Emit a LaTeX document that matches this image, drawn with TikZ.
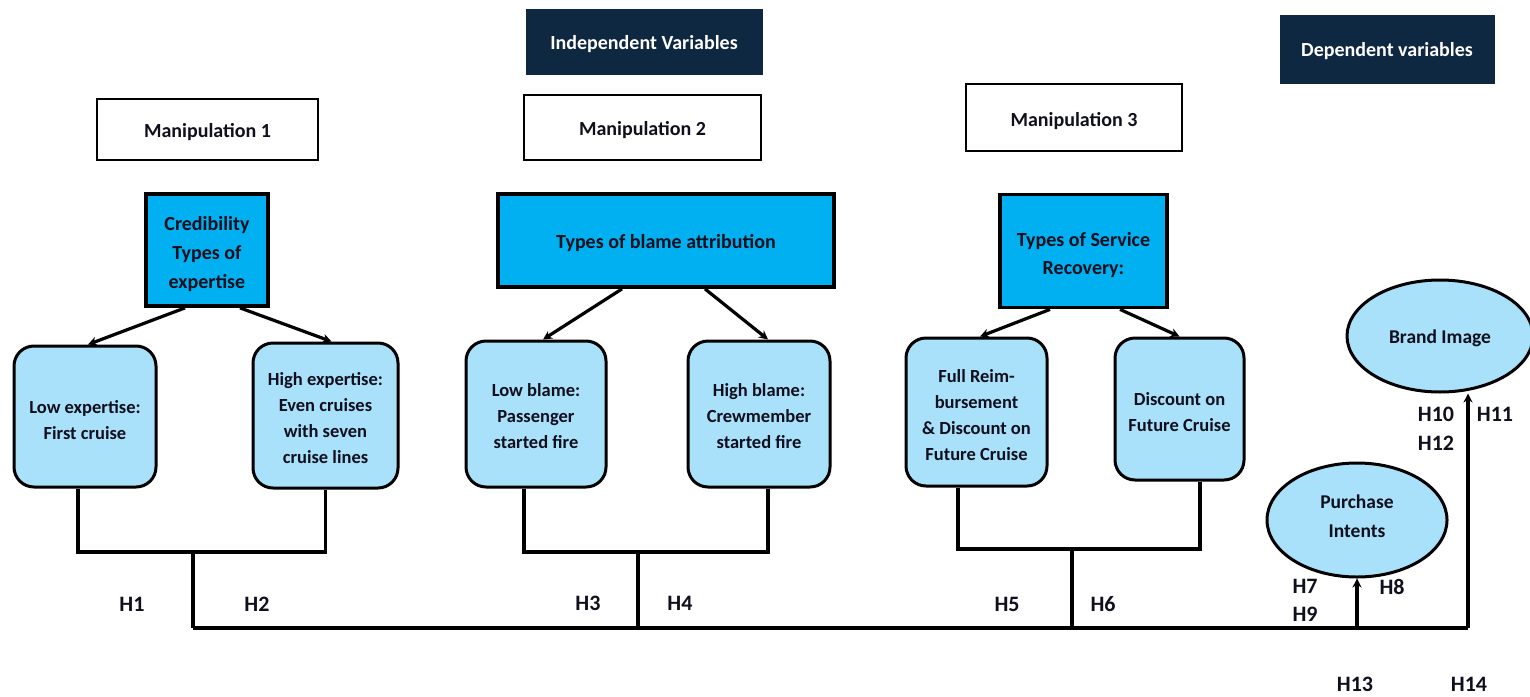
\documentclass[tikz,border=0pt]{standalone}
\usepackage{fontspec}
\setmainfont{Carlito}
\usetikzlibrary{arrows.meta,shapes.geometric}
\definecolor{navy}{RGB}{14,40,65}
\definecolor{bright}{RGB}{0,176,240}
\definecolor{pale}{RGB}{170,225,250}
\definecolor{ink}{RGB}{15,15,30}
\newcommand{\topstrut}[1]{\rule{0pt}{#1}}
\begin{document}
\begin{tikzpicture}[x=1pt,y=-1pt,
  every node/.style={font=\fontsize{18.5}{26}\selectfont\bfseries, align=center, inner sep=2pt, text=ink},
  bigtext/.style={font=\fontsize{20}{28}\selectfont\bfseries},
  darkbox/.style={draw=navy, fill=navy, text=white, line width=1pt, bigtext},
  manbox/.style={draw=black, fill=white, line width=2.4pt, bigtext},
  typebox/.style={draw=black, fill=bright, line width=3.8pt},
  optbox/.style={draw=black, fill=pale, line width=3pt, rounded corners=20pt},
  depell/.style={draw=black, fill=pale, line width=3pt, ellipse, inner sep=0pt, font=\fontsize{19.5}{29}\selectfont\bfseries},
  hlab/.style={font=\fontsize{22}{28}\selectfont\bfseries},
  conn/.style={draw=black, line width=3.2pt},
  arr/.style={draw=black, line width=3.2pt, -{Stealth[length=9pt,width=9pt]}}]
\useasboundingbox (0,0) rectangle (1530,696);

% header boxes
\node[darkbox, minimum width=236pt, minimum height=65pt] (indep) at (644,41.5) {\topstrut{20pt}Independent Variables};
\node[darkbox, minimum width=214pt, minimum height=68pt] (dep) at (1387,49) {\topstrut{18pt}Dependent variables};

\node[manbox, minimum width=221pt, minimum height=61pt] (man1) at (207.5,129.5) {\topstrut{20pt}Manipulation 1};
\node[manbox, minimum width=237pt, minimum height=65pt] (man2) at (642.5,127.5) {\topstrut{20pt}Manipulation 2};
\node[manbox, minimum width=216pt, minimum height=67pt] (man3) at (1074,117.5) {\topstrut{21pt}Manipulation 3};

% factor boxes
\node[typebox, minimum width=122pt, minimum height=112pt, font=\fontsize{20}{29}\selectfont\bfseries] (cred) at (207,250) {\topstrut{22pt}Credibility\\Types of\\expertise};
\node[typebox, minimum width=336pt, minimum height=93pt, bigtext] (blame) at (666,240.5) {\topstrut{20pt}Types of blame attribution};
\node[typebox, minimum width=167pt, minimum height=113pt, font=\fontsize{20}{28}\selectfont\bfseries] (serv) at (1083.5,251) {\topstrut{22pt}Types of Service\\Recovery:};

% level boxes
\node[optbox, minimum width=142pt, minimum height=141pt] (lowexp) at (85,416.5) {\topstrut{19.5pt}Low expertise:\\First cruise};
\node[optbox, minimum width=145pt, minimum height=145pt] (highexp) at (325.5,415.5) {\topstrut{18pt}High expertise:\\Even cruises\\with seven\\cruise lines};
\node[optbox, minimum width=140pt, minimum height=146pt] (lowbl) at (536,414) {\topstrut{18pt}Low blame:\\Passenger\\started fire};
\node[optbox, minimum width=142pt, minimum height=146pt] (highbl) at (759,414) {\topstrut{18pt}High blame:\\Crewmember\\started fire};
\node[optbox, minimum width=141pt, minimum height=148pt] (full) at (976.5,412) {\topstrut{19.5pt}Full Reim-\\bursement\\\& Discount on\\Future Cruise};
\node[optbox, minimum width=129pt, minimum height=142pt] (disc) at (1179.5,409) {\topstrut{19pt}Discount on\\Future Cruise};

% dependent variables
\node[depell, minimum width=186pt, minimum height=112pt] (brand) at (1440,336) {\topstrut{18pt}Brand Image};
\node[depell, minimum width=180pt, minimum height=114pt] (purch) at (1357,520) {Purchase\\Intents\rule[-8pt]{0pt}{8pt}};

% arrows from factors to levels
\draw[arr] ([xshift=-22pt]cred.south) -- ([xshift=3pt]lowexp.north);
\draw[arr] ([xshift=33pt]cred.south) -- ([xshift=6pt]highexp.north);
\draw[arr] ([xshift=-44pt]blame.south) -- ([xshift=7pt]lowbl.north);
\draw[arr] ([xshift=39pt]blame.south) -- ([xshift=9pt]highbl.north);
\draw[arr] ([xshift=-33.5pt]serv.south) -- ([xshift=3.5pt]full.north);
\draw[arr] ([xshift=36.5pt]serv.south) -- (disc.north);

% brackets
\coordinate (b1) at (193,552);
\coordinate (b2) at (638,552);
\coordinate (b3) at (1072,549);
\coordinate (base) at (193,628);
\coordinate (rend) at (1468,628);

\draw[conn] ([xshift=-7pt]lowexp.south) |- (highexp.south |- b1) -- (highexp.south);
\draw[conn] ([xshift=-12pt]lowbl.south) |- ([xshift=9pt]highbl.south |- b2) -- ([xshift=9pt]highbl.south);
\draw[conn] ([xshift=-18.5pt]full.south) |- ([xshift=20.5pt]disc.south |- b3) -- ([xshift=20.5pt]disc.south);

\draw[conn] (b1) -- (base);
\draw[conn] (b2) -- (b2 |- base);
\draw[conn] (b3) -- (b3 |- base);
\draw[conn] (base) -- (rend);

\draw[arr] (purch.south |- base) -- (purch.south);
\draw[arr] (rend) -- (rend |- brand.south);

% hypothesis labels
\node[hlab] (h1) at (132,604) {H1};
\node[hlab] (h2) at (257,604) {H2};
\node[hlab] (h3) at (588,603) {H3};
\node[hlab] (h4) at (680,603) {H4};
\node[hlab] (h5) at (1007,604) {H5};
\node[hlab] (h6) at (1103,604) {H6};
\node[hlab] (h7) at (1305,586) {H7};
\node[hlab] (h9) at (1305,614) {H9};
\node[hlab] (h8) at (1392,587) {H8};
\node[hlab] (h10) at (1436,414) {H10};
\node[hlab] (h12) at (1436,443) {H12};
\node[hlab] (h11) at (1495,414) {H11};
\node[hlab] (h13) at (1355,684) {H13};
\node[hlab] (h14) at (1469,684) {H14};
\end{tikzpicture}
\end{document}
